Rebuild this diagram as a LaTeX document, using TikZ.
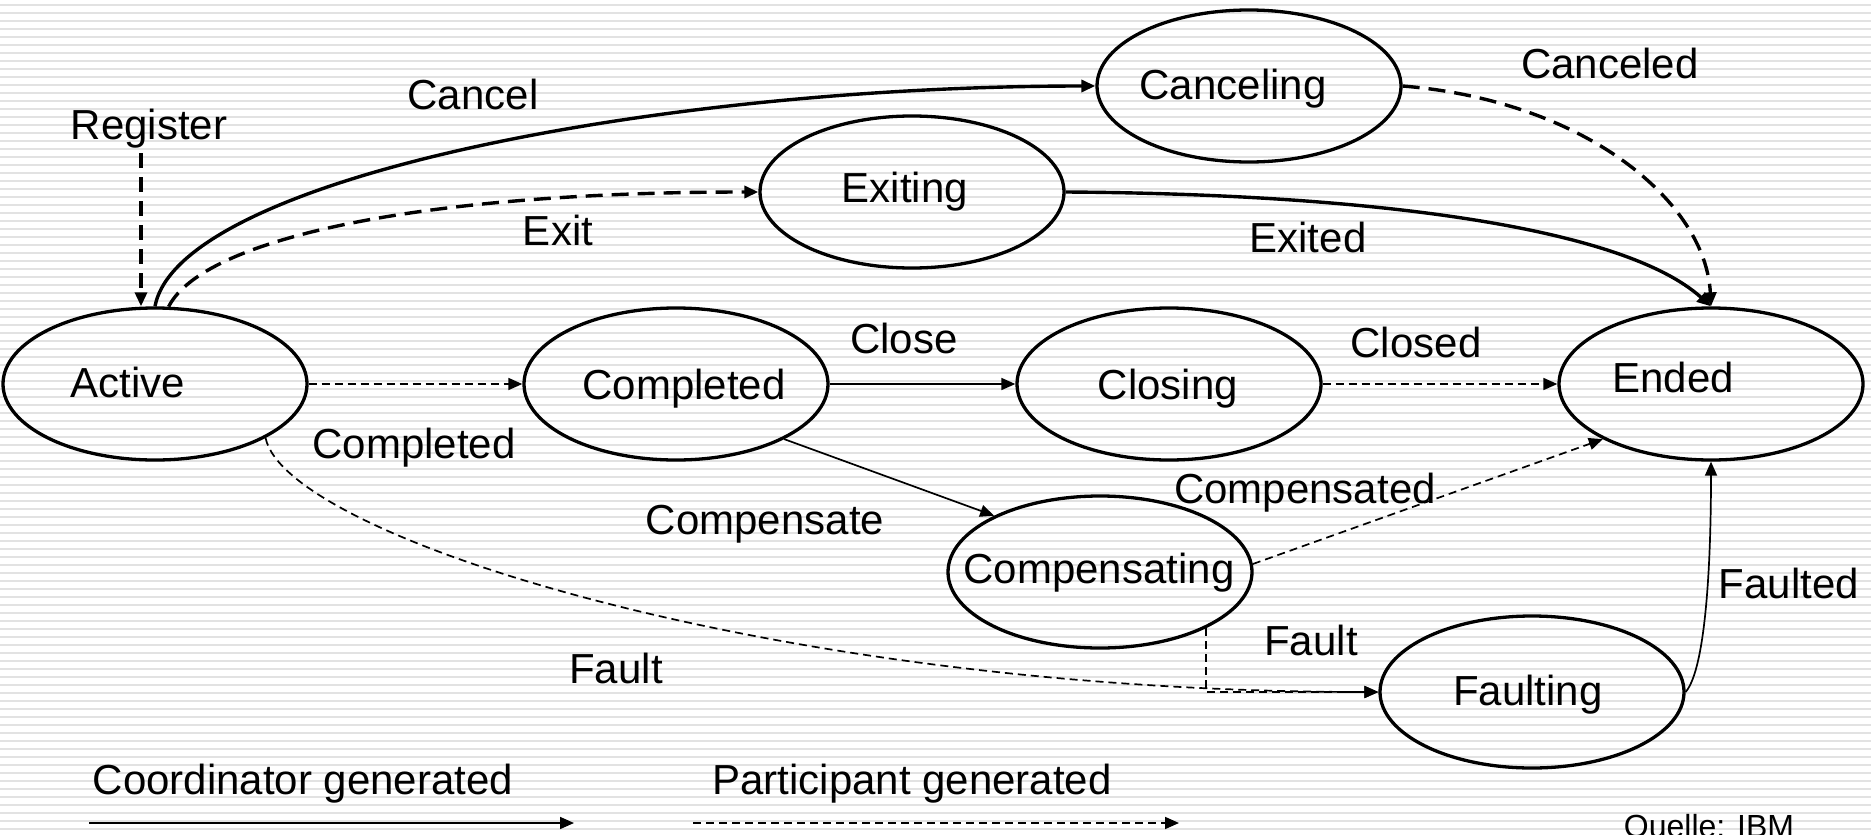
\documentclass[tikz,border=0pt]{standalone}
\usepackage{fontspec}
\setmainfont{Liberation Sans}
\usetikzlibrary{arrows.meta,shapes.geometric}
\definecolor{stripe}{RGB}{226,226,226}
\begin{document}
\begin{tikzpicture}[x=1pt,y=-1pt,
  st/.style={ellipse,draw,line width=3.3pt,minimum width=304pt,minimum height=152pt,inner sep=0pt},
  txt/.style={font=\fontsize{42}{50}\selectfont,inner sep=0pt,anchor=base},
  small/.style={font=\fontsize{32}{38}\selectfont,inner sep=0pt,anchor=base},
  thinline/.style={line width=1.7pt},
  thickline/.style={line width=3.4pt},
  arr/.style={-{Triangle[length=14pt,width=12pt]}},
  dashthin/.style={dash pattern=on 8pt off 5pt},
  dashthick/.style={dash pattern=on 17pt off 9pt}]
\useasboundingbox (0,0) rectangle (1871,835);
\fill[white] (0,0) rectangle (1871,835);
\foreach \k in {0,...,103} {\fill[stripe] (0,{3.5+8*\k}) rectangle (1871,{6+8*\k});}

% states
\node[st] (act) at (155,384) {};
\node[st] (cmp) at (676,384) {};
\node[st] (cls) at (1169,384) {};
\node[st] (end) at (1711,384) {};
\node[st] (can) at (1249,86) {};
\node[st] (exi) at (912,192) {};
\node[st] (cps) at (1100,572) {};
\node[st] (flt) at (1532,692) {};

\node[txt] (tact) at (128,397) {Active};
\node[txt] (tcmp) at (684,399) {Completed};
\node[txt] (tcls) at (1168,399) {Closing};
\node[txt] (tend) at (1673,392) {Ended};
\node[txt] (tcan) at (1233,99) {Canceling};
\node[txt] (texi) at (905,202) {Exiting};
\node[txt] (tcps) at (1099,583) {Compensating};
\node[txt] (tflt) at (1528,705) {Faulting};

% transition labels
\node[txt] (lreg) at (149,139) {Register};
\node[txt] (lcan) at (473,109) {Cancel};
\node[txt] (lexi) at (558,245) {Exit};
\node[txt] (lcand) at (1610,78) {Canceled};
\node[txt] (lexd) at (1308,252) {Exited};
\node[txt] (lclo) at (904,353) {Close};
\node[txt] (lclod) at (1416,357) {Closed};
\node[txt] (lcmpd) at (414,458) {Completed};
\node[txt] (lcps) at (765,534) {Compensate};
\node[txt] (lcpsd) at (1305,503) {Compensated};
\node[txt] (lfltd) at (1789,598) {Faulted};
\node[txt] (lflt1) at (1311,655) {Fault};
\node[txt] (lflt2) at (616,683) {Fault};
\node[txt] (lcoo) at (303,794) {Coordinator generated};
\node[txt] (lpar) at (912,794) {Participant generated};
\node[small] (src) at (1709,837) {Quelle: IBM};

% connectors
\coordinate (reg) at (141,153);
\draw[line width=3.2pt,dash pattern=on 15pt off 9pt,arr] (reg) -- (reg |- act.north);
\draw[thickline,arr] (act.north) .. controls (179,179) and (656,86) .. (can.west);
\draw[thickline,dashthick,arr] (act.80) .. controls (203,239) and (418,192) .. (exi.west);
\draw[thickline,dashthick,arr] (can.east) .. controls (1587,101) and (1706,203) .. (end.north);
\draw[thickline,arr] (exi.east) .. controls (1372,194) and (1623,227) .. (end.north);
\draw[thinline,dashthin,arr] (act.east) -- (cmp.west);
\draw[thinline,arr] (cmp.east) -- (cls.west);
\draw[thinline,dashthin,arr] (cls.east) -- (end.west);
\draw[thinline,arr] (cmp.-27) -- (cps.152);
\draw[thinline,dashthin,arr] (cps.3) -- (end.207);
\draw[thinline,dashthin,arr] (act.-26) .. controls (286,537) and (776,692) .. (flt.west);
\draw[thinline,dashthin,arr] (cps.-28) |- (flt.west);
\draw[thinline,arr] (flt.east) .. controls (1706,668) and (1711,561) .. (end.south);

% legend
\coordinate (l1a) at (89,823);
\coordinate (l1b) at (574,823);
\coordinate (l2a) at (693,823);
\coordinate (l2b) at (1179,823);
\draw[thinline,arr] (l1a) -- (l1b);
\draw[thinline,dashthin,arr] (l2a) -- (l2b);
\end{tikzpicture}
\end{document}
